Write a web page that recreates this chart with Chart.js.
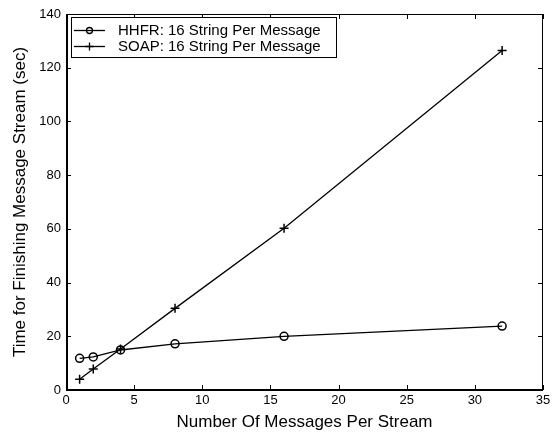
<!DOCTYPE html>
<html>
<head>
<meta charset="utf-8">
<script src="https://cdn.jsdelivr.net/npm/chart.js@4.4.0/dist/chart.umd.min.js"></script>
<style>
  html, body { margin: 0; padding: 0; background: #fff; }
  #wrap { width: 558px; height: 435px; }
</style>
</head>
<body>
<div id="wrap"><canvas id="chart" width="558" height="435"></canvas></div>
<script>
const mensajes = [1, 2, 4, 8, 16, 32];
const hhfr = [11.8, 12.3, 14.9, 17.2, 20.0, 23.8];
const soap = [4.0, 7.8, 15.3, 30.4, 60.2, 126.4];
const xTicks = [0, 5, 10, 15, 20, 25, 30, 35];
const yTicks = [0, 20, 40, 60, 80, 100, 120, 140];
const etiquetas = ['HHFR: 16 String Per Message', 'SOAP: 16 String Per Message'];

const FONT = 'Liberation Sans, Arial, Helvetica, sans-serif';

// marco y ticks hacia dentro, estilo matlab
const marcoPlugin = {
  id: 'marco',
  afterDatasetsDraw(chart) {
    const { ctx, chartArea: a, scales } = chart;
    ctx.save();
    ctx.strokeStyle = '#000';
    ctx.lineWidth = 1;
    ctx.strokeRect(a.left + 0.5, a.top + 0.5, a.right - a.left - 1, a.bottom - a.top);
    ctx.lineWidth = 2;
    ctx.beginPath();
    ctx.moveTo(a.left, a.bottom);
    ctx.lineTo(a.right, a.bottom);
    ctx.moveTo(a.left + 1, a.top);
    ctx.lineTo(a.left + 1, a.bottom);
    ctx.stroke();
    ctx.lineWidth = 1;
    ctx.beginPath();
    const len = 5;
    xTicks.forEach(v => {
      const x = Math.round(scales.x.getPixelForValue(v)) + 0.5;
      ctx.moveTo(x, a.bottom); ctx.lineTo(x, a.bottom - len);
      ctx.moveTo(x, a.top); ctx.lineTo(x, a.top + len);
    });
    yTicks.forEach(v => {
      const y = Math.round(scales.y.getPixelForValue(v)) + 0.5;
      ctx.moveTo(a.left, y); ctx.lineTo(a.left + len, y);
      ctx.moveTo(a.right, y); ctx.lineTo(a.right - len, y);
    });
    ctx.stroke();
    ctx.restore();
  }
};

// leyenda con caja dentro del area
const leyendaPlugin = {
  id: 'leyenda',
  afterDraw(chart) {
    const { ctx, chartArea: a } = chart;
    const x0 = a.left + 5, y0 = a.top + 3, w = 265, h = 40;
    ctx.save();
    ctx.fillStyle = '#fff';
    ctx.fillRect(x0, y0, w, h);
    ctx.strokeStyle = '#000';
    ctx.lineWidth = 1;
    ctx.strokeRect(x0 + 0.5, y0 + 0.5, w, h);
    ctx.font = '15px ' + FONT;
    ctx.textBaseline = 'middle';
    chart.data.datasets.forEach((ds, i) => {
      const y = y0 + 13 + i * 16;
      ctx.lineWidth = 1.3;
      ctx.beginPath();
      ctx.moveTo(x0 + 3, y + 0.5);
      ctx.lineTo(x0 + 34, y + 0.5);
      ctx.stroke();
      const cx = x0 + 18.5;
      ctx.beginPath();
      if (ds.pointStyle === 'circle') {
        ctx.arc(cx, y + 0.5, 3, 0, Math.PI * 2);
      } else {
        ctx.moveTo(cx, y - 3.5); ctx.lineTo(cx, y + 4.5);
        ctx.moveTo(cx - 4, y + 0.5); ctx.lineTo(cx + 4, y + 0.5);
      }
      ctx.stroke();
      ctx.fillStyle = '#000';
      ctx.fillText(ds.label, x0 + 47, y + 1);
    });
    ctx.restore();
  }
};

new Chart(document.getElementById('chart'), {
  type: 'line',
  data: {
    datasets: [
      {
        label: etiquetas[0],
        data: mensajes.map((m, i) => ({ x: m, y: hhfr[i] })),
        borderColor: '#000', borderWidth: 1.3,
        pointStyle: 'circle', pointRadius: 4, pointBorderWidth: 1.5,
        pointBackgroundColor: 'rgba(0,0,0,0)', pointBorderColor: '#000',
        tension: 0
      },
      {
        label: etiquetas[1],
        data: mensajes.map((m, i) => ({ x: m, y: soap[i] })),
        borderColor: '#000', borderWidth: 1.3,
        pointStyle: 'cross', pointRadius: 4.5, pointBorderWidth: 1.5,
        pointBorderColor: '#000',
        tension: 0
      }
    ]
  },
  options: {
    responsive: false,
    animation: false,
    layout: { padding: { top: 14, right: 15, left: 0, bottom: 0 } },
    plugins: { legend: { display: false }, tooltip: { enabled: false } },
    scales: {
      x: {
        type: 'linear', min: 0, max: 35,
        afterBuildTicks: s => { s.ticks = xTicks.map(v => ({ value: v })); },
        afterFit: s => { s.height = 45; },
        grid: { display: false, drawTicks: false },
        border: { display: false },
        ticks: { color: '#000', font: { family: FONT, size: 13 }, padding: 3, maxRotation: 0 },
        title: { display: true, text: 'Number Of Messages Per Stream', color: '#000', font: { family: FONT, size: 17 }, padding: { top: 4, bottom: 2 } }
      },
      y: {
        type: 'linear', min: 0, max: 140,
        afterBuildTicks: s => { s.ticks = yTicks.map(v => ({ value: v })); },
        afterFit: s => { s.width = 66; },
        grid: { display: false, drawTicks: false },
        border: { display: false },
        ticks: { color: '#000', font: { family: FONT, size: 13 }, padding: 5 },
        title: { display: true, text: 'Time for Finishing Message Stream (sec)', color: '#000', font: { family: FONT, size: 17 }, padding: { top: 10, bottom: 0 } }
      }
    }
  },
  plugins: [marcoPlugin, leyendaPlugin]
});
</script>
</body>
</html>
